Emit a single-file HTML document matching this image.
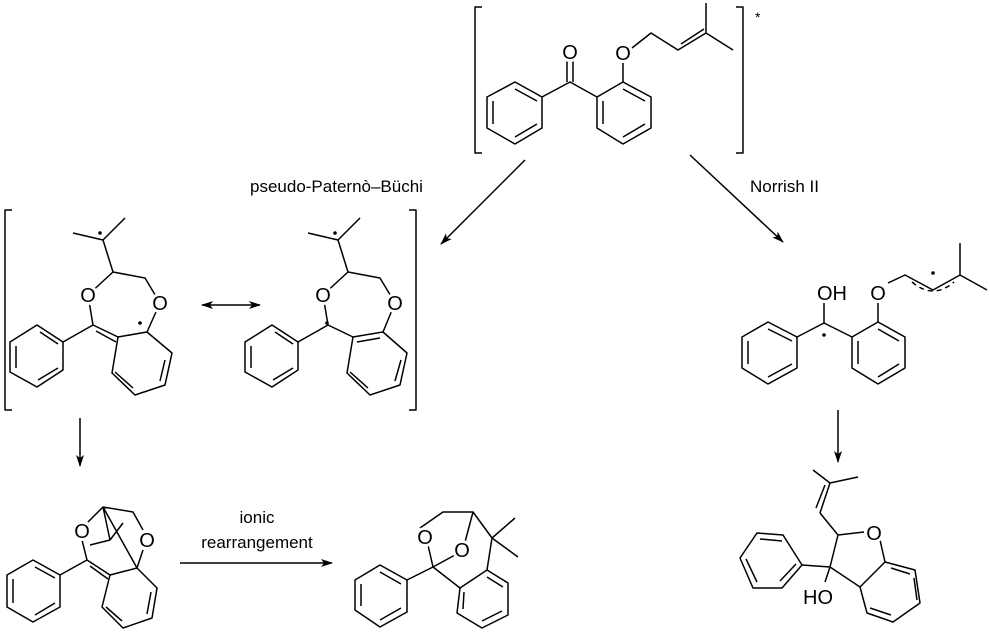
<!DOCTYPE html>
<html><head><style>body{margin:0;background:#fff}svg{display:block}</style></head><body>
<svg width="990" height="635" viewBox="0 0 990 635" xmlns="http://www.w3.org/2000/svg" font-family="Liberation Sans, sans-serif">
<defs><marker id="a" markerWidth="12" markerHeight="8" refX="11" refY="4" orient="auto" markerUnits="userSpaceOnUse"><path d="M0,0 L12,4 L0,8 L3,4z" fill="#000"/></marker>
<marker id="b" markerWidth="12" markerHeight="8" refX="1" refY="4" orient="auto" markerUnits="userSpaceOnUse"><path d="M12,0 L0,4 L12,8 L9,4z" fill="#000"/></marker></defs>
<g stroke="#000" stroke-width="1.5" fill="none" stroke-linejoin="round">
<polygon points="515,82 542,97 542,128 515,144 487,128 487,97"/>
<path d="M515,89 L537,101 M537,124 L515,137 M493,124 L493,101"/>
<path d="M542,97 L570,82 L597,97 M567,82 L567,60 M573,82 L573,60"/>
<polygon points="597,97 623,82 651,97 651,128 623,144 597,128"/>
<path d="M603,101 L603,124 M623,137 L645,124 M623,89 L645,101"/>
<path d="M623,82 L623,62 M632,48 L651,33 L678,50 L706,33 L706,3 M706,33 L733,50 M681,44 L704,29"/>
<path d="M482,7 L475,7 L475,153 L482,153 M736,7 L743,7 L743,153 L736,153"/>
<line x1="525" y1="160" x2="441" y2="244" marker-end="url(#a)"/>
<line x1="690" y1="155" x2="783" y2="242" marker-end="url(#a)"/>
<line x1="202" y1="305" x2="260" y2="305" marker-start="url(#b)" marker-end="url(#a)"/>
<line x1="80" y1="418" x2="80" y2="466" marker-end="url(#a)"/>
<line x1="838" y1="410" x2="838" y2="462" marker-end="url(#a)"/>
<line x1="180" y1="563" x2="332" y2="563" marker-end="url(#a)"/>
<path d="M12,210 L5,210 L5,410 L12,410 M409,210 L416,210 L416,410 L409,410"/>
<path d="M73,233 L103,240 L125,218 M103,240 L113,272 L88,295 M113,272 L145,278 L160,303 L147,332 M88,295 L93,325 L63,342 M93,325 L118,337 M96,331 L116,342"/>
<polygon points="37,325 63,342 63,370 37,387 10,372 10,342"/>
<path d="M40,332 L58,344 M58,368 L38,380 M16,368 L16,346"/>
<path d="M118,337 L147,332 L172,353 L165,385 L135,395 L112,373 Z M165,360 L160,381 M133,388 L115,372"/>
<path d="M308,233 L338,240 L360,218 M338,240 L348,272 L323,295 M348,272 L380,278 L395,303 L383,332 M323,295 L328,325 L298,342 M328,325 L353,337"/>
<polygon points="272,325 298,342 298,370 272,387 245,372 245,342"/>
<path d="M275,332 L293,344 M293,368 L273,380 M251,368 L251,346"/>
<path d="M353,337 L383,332 L407,353 L400,385 L370,395 L347,373 Z M357,342 L380,338 M401,360 L395,381 M368,388 L350,372"/>
<polygon points="768,322 797,337 797,368 768,384 742,368 742,337"/>
<path d="M768,329 L792,341 M792,364 L768,377 M748,364 L748,341"/>
<path d="M797,337 L824,323 L852,337 M824,323 L824,302"/>
<polygon points="852,337 878,322 905,337 905,368 878,384 852,368"/>
<path d="M858,341 L858,364 M878,377 L899,364 M878,329 L899,341"/>
<path d="M878,322 L878,302 M888,283 L905,275 L933,290 L960,275 L960,243 M960,275 L987,290"/>
<path d="M912,282 Q933,300 954,282" stroke-dasharray="5,4"/>
<polygon points="33,560 60,575 60,607 33,622 7,607 7,575"/>
<path d="M35,567 L55,578 M55,603 L35,615 M13,603 L13,579"/>
<path d="M60,575 L87,560 L82,540 M87,560 L110,575 M90,566 L108,579 M88,522 L103,507 L133,512 L143,530 M103,507 L110,540 L123,523 M110,540 L90,545 M103,507 L137,568 L143,550"/>
<path d="M110,575 L137,568 L157,588 L152,618 L123,628 L102,607 Z M151,592 L147,614 M122,621 L106,607"/>
<polygon points="380,565 407,580 407,612 380,627 355,610 355,580"/>
<path d="M380,572 L401,584 M401,608 L380,620 M361,606 L361,584"/>
<path d="M407,580 L433,567 L428,545 M420,528 L443,512 L473,512 L465,542 M433,567 L455,555 M473,512 L492,538 L515,518 M492,538 L518,557 M492,538 L487,570 M433,567 L460,588"/>
<path d="M460,588 L487,570 L508,583 L508,615 L482,628 L457,613 Z M487,577 L503,587 M502,611 L482,621 M463,609 L464,592"/>
<path d="M813,470 L830,483 L858,477 M830,483 L820,513 M825,485 L816,508 M820,513 L838,535 L864,532 M838,535 L830,567 L802,565 M830,567 L860,587 M830,567 L825,582 M880,540 L885,562 L860,587"/>
<polygon points="783,535 757,533 740,558 753,588 782,588 802,565"/>
<path d="M782,541 L760,539 M746,559 L757,582 M780,581 L796,564"/>
<path d="M885,562 L915,570 L920,603 L893,622 L867,613 L860,587 M891,568 L910,574 M914,578 L917,600 M891,615 L870,608"/>
</g>
<g fill="#000">
<circle cx="100" cy="233" r="1.8"/><circle cx="140" cy="323" r="1.8"/>
<circle cx="335" cy="233" r="1.8"/><circle cx="327" cy="323" r="1.8"/>
<circle cx="824" cy="335" r="1.8"/><circle cx="933" cy="273" r="1.8"/>
</g>
<g fill="#fff">
<circle cx="570" cy="52" r="10"/><circle cx="623" cy="53" r="10"/>
<circle cx="88" cy="295" r="10"/><circle cx="160" cy="303" r="10"/>
<circle cx="323" cy="295" r="10"/><circle cx="395" cy="303" r="10"/>
<rect x="816" y="283" width="32" height="20"/><circle cx="878" cy="293" r="10"/>
<circle cx="82" cy="531" r="10"/><circle cx="147" cy="540" r="10"/>
<circle cx="425" cy="537" r="10"/><circle cx="462" cy="550" r="10"/>
<circle cx="874" cy="533" r="10"/><rect x="802" y="587" width="32" height="20"/>
</g>
<g font-size="20" text-anchor="middle" fill="#000">
<text x="570" y="59">O</text><text x="623" y="60">O</text>
<text x="88" y="302">O</text><text x="160" y="310">O</text>
<text x="323" y="302">O</text><text x="395" y="310">O</text>
<text x="832" y="300">OH</text><text x="878" y="300">O</text>
<text x="82" y="538">O</text><text x="147" y="547">O</text>
<text x="425" y="544">O</text><text x="462" y="557">O</text>
<text x="874" y="540">O</text><text x="818" y="604">HO</text>
</g>
<g font-size="17" fill="#000">
<text x="755" y="22" font-size="14">*</text>
<text x="250" y="192">pseudo-Paternò–Büchi</text>
<text x="750" y="192">Norrish II</text>
<text x="257" y="523" text-anchor="middle">ionic</text>
<text x="257" y="548" text-anchor="middle">rearrangement</text>
</g>
</svg>
</body></html>
